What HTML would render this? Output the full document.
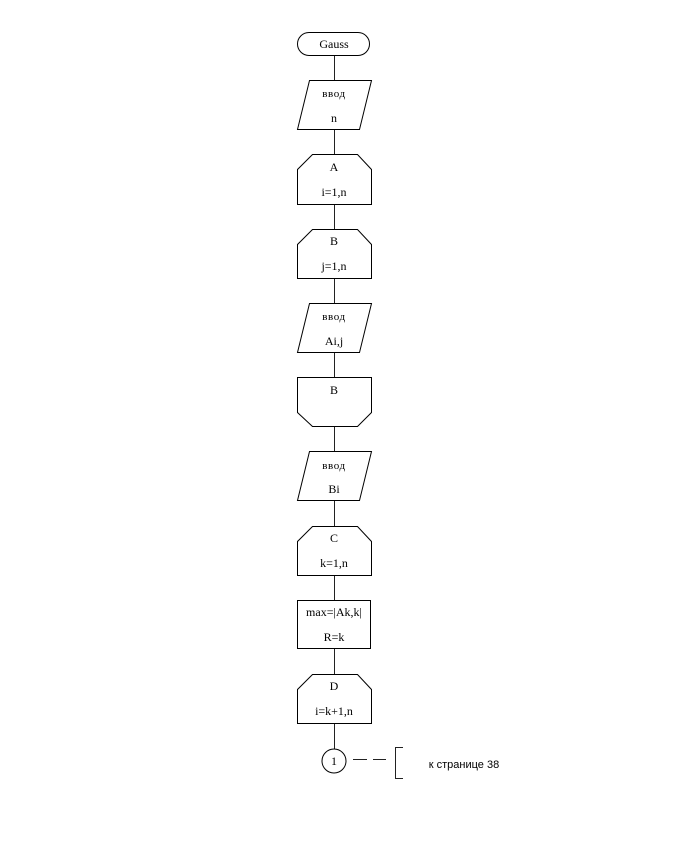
<!DOCTYPE html>
<html>
<head>
<meta charset="utf-8">
<style>
html,body{margin:0;padding:0;background:#fff;}
svg{display:block;}
.s{fill:#fff;stroke:#000;stroke-width:1;}
.l{stroke:#222;stroke-width:1;fill:none;}
text{font-family:"Liberation Serif",serif;font-size:12px;fill:#000;text-anchor:middle;}
.v{font-size:11px;letter-spacing:.6px;}
</style>
</head>
<body>
<svg width="693" height="846" viewBox="0 0 693 846" xmlns="http://www.w3.org/2000/svg">
<rect width="693" height="846" fill="#fff"/>
<path class="l" d="M334.5 56V749"/>

<rect class="s" x="297.5" y="32.5" width="72" height="23" rx="11.5" ry="11.5"/>
<text x="334" y="48">Gauss</text>

<polygon class="s" points="309.5,80.5 371.5,80.5 359.5,129.5 297.5,129.5"/>
<text x="334" y="97" class="v">ввод</text>
<text x="334" y="122">n</text>

<polygon class="s" points="312.5,154.5 357.5,154.5 371.5,169.5 371.5,204.5 297.5,204.5 297.5,169.5"/>
<text x="334" y="171">A</text>
<text x="334" y="196">i=1,n</text>

<polygon class="s" points="312.5,229.5 357.5,229.5 371.5,244.5 371.5,278.5 297.5,278.5 297.5,244.5"/>
<text x="334" y="245">B</text>
<text x="334" y="270">j=1,n</text>

<polygon class="s" points="309.5,303.5 371.5,303.5 359.5,352.5 297.5,352.5"/>
<text x="334" y="320" class="v">ввод</text>
<text x="334" y="345">Ai,j</text>

<polygon class="s" points="297.5,377.5 371.5,377.5 371.5,412.5 357.5,426.5 312.5,426.5 297.5,412.5"/>
<text x="334" y="394">B</text>

<polygon class="s" points="309.5,451.5 371.5,451.5 359.5,500.5 297.5,500.5"/>
<text x="334" y="469" class="v">ввод</text>
<text x="334" y="493">Bi</text>

<polygon class="s" points="312.5,526.5 357.5,526.5 371.5,541.5 371.5,575.5 297.5,575.5 297.5,541.5"/>
<text x="334" y="542">C</text>
<text x="334" y="567">k=1,n</text>

<rect class="s" x="297.5" y="600.5" width="73" height="48"/>
<text x="334" y="616">max=|Ak,k|</text>
<text x="334" y="641">R=k</text>

<polygon class="s" points="312.5,674.5 357.5,674.5 371.5,689.5 371.5,723.5 297.5,723.5 297.5,689.5"/>
<text x="334" y="690">D</text>
<text x="334" y="715">i=k+1,n</text>

<circle class="s" cx="334" cy="761" r="12"/>
<text x="334" y="765">1</text>

<path class="l" d="M353 759.5H367M373 759.5H386"/>
<path class="l" d="M403 747.5H395.5V778.5H403"/>
<text x="464" y="768" style="font-family:'Liberation Sans',sans-serif;font-size:11px">к странице 38</text>
</svg>
</body>
</html>
